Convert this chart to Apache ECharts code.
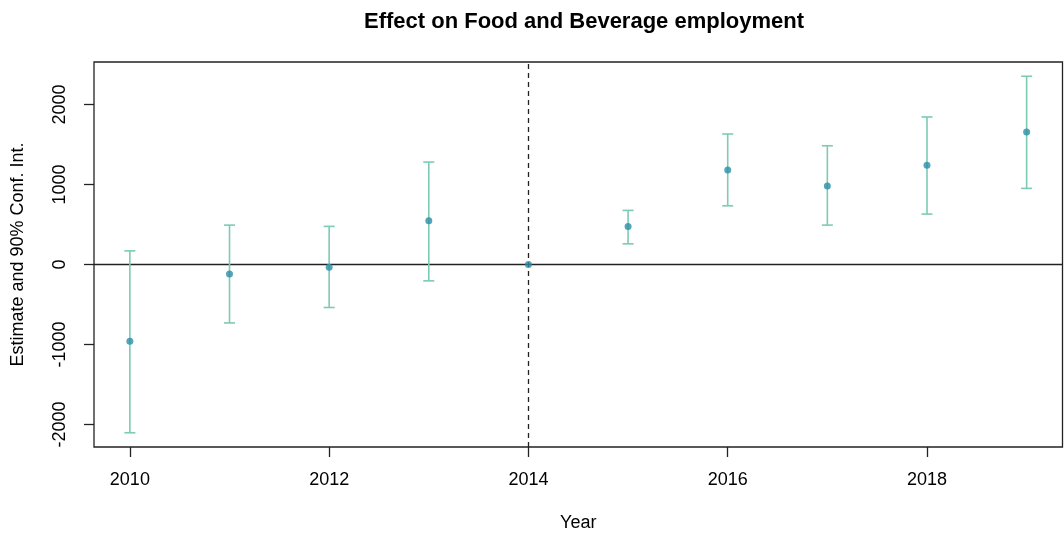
<!DOCTYPE html>
<html>
<head>
<meta charset="utf-8">
<script src="https://cdn.jsdelivr.net/npm/echarts@6/dist/echarts.min.js"></script>
<style>
  html, body { margin: 0; padding: 0; background: #ffffff; }
  #chart { width: 1064px; height: 537px; }
</style>
</head>
<body>
<div id="chart"></div>
<script>
// Event-study estimates with 90% confidence intervals
const years    = [2010, 2011, 2012, 2013, 2014, 2015, 2016, 2017, 2018, 2019];
const estimate = [-960, -118, -34, 546, 0, 476, 1180, 980, 1239, 1656];
const lower    = [-2104, -731, -538, -205, 0, 258, 733, 492, 630, 951];
const upper    = [170, 492, 476, 1280, 0, 676, 1631, 1484, 1844, 2353];
const xTicks   = [2010, 2012, 2014, 2016, 2018];
const yTicks   = [-2000, -1000, 0, 1000, 2000];
const eventYear = 2014;

const FONT = 'Liberation Sans, Arial, sans-serif';
const barColor = '#7dcab5';
const pointColor = '#2a8fa6';

// axis range padded by 4% on each side
const xPad = (years[years.length - 1] - years[0]) * 0.04;
const yLo = Math.min(...lower), yHi = Math.max(...upper);
const yPad = (yHi - yLo) * 0.04;

const intervals = years.map((y, i) => [y, lower[i], upper[i]]).filter(d => d[1] !== d[2]);
const points = years.map((y, i) => [y, estimate[i]]);

const chart = echarts.init(document.getElementById('chart'), null, { renderer: 'canvas' });
chart.setOption({
  animation: false,
  backgroundColor: '#ffffff',
  title: {
    text: 'Effect on Food and Beverage employment',
    left: 579, top: 6, textAlign: 'center',
    textStyle: { fontFamily: FONT, fontSize: 22, fontWeight: 'bold', color: '#000' }
  },
  grid: {
    left: 94, right: 1.5, top: 62, bottom: 90,
    show: true, borderColor: '#222', borderWidth: 1.3, backgroundColor: 'transparent'
  },
  xAxis: {
    type: 'value',
    min: years[0] - xPad, max: years[years.length - 1] + xPad,
    name: 'Year', nameLocation: 'middle', nameGap: 67,
    nameTextStyle: { fontFamily: FONT, fontSize: 18, color: '#000' },
    axisLine: { show: false, onZero: false },
    splitLine: { show: false },
    axisTick: { show: true, length: 10, lineStyle: { color: '#222', width: 1.3 }, customValues: xTicks },
    axisLabel: { margin: 24, fontFamily: FONT, fontSize: 18, color: '#000', customValues: xTicks,
      formatter: v => String(v) }
  },
  yAxis: {
    type: 'value',
    min: yLo - yPad, max: yHi + yPad,
    name: 'Estimate and 90% Conf. Int.', nameLocation: 'middle', nameGap: 67,
    nameTextStyle: { fontFamily: FONT, fontSize: 18, color: '#000' },
    axisLine: { show: false, onZero: false },
    splitLine: { show: false },
    axisTick: { show: true, length: 10, lineStyle: { color: '#222', width: 1.3 }, customValues: yTicks },
    axisLabel: { margin: 25, rotate: 90, fontFamily: FONT, fontSize: 18, color: '#000', customValues: yTicks,
      formatter: v => String(v) }
  },
  series: [
    {
      type: 'custom',
      name: 'interval',
      data: intervals,
      encode: { x: 0, y: [1, 2] },
      z: 2,
      renderItem: function (params, api) {
        const x = api.value(0);
        const lo = api.coord([x, api.value(1)]);
        const hi = api.coord([x, api.value(2)]);
        const cap = 5.5;
        const style = { stroke: barColor, lineWidth: 1.6, fill: null };
        return {
          type: 'group',
          children: [
            { type: 'line', shape: { x1: lo[0], y1: lo[1], x2: hi[0], y2: hi[1] }, style },
            { type: 'line', shape: { x1: lo[0] - cap, y1: lo[1], x2: lo[0] + cap, y2: lo[1] }, style },
            { type: 'line', shape: { x1: hi[0] - cap, y1: hi[1], x2: hi[0] + cap, y2: hi[1] }, style }
          ]
        };
      },
      // zero line and event-year reference line, drawn beneath the points
      markLine: {
        silent: true,
        z: 1,
        symbol: 'none',
        label: { show: false },
        data: [
          { yAxis: 0, lineStyle: { color: '#222', width: 1.3, type: 'solid' } },
          { xAxis: eventYear, lineStyle: { color: '#222', width: 1.3, type: [5, 4] } }
        ]
      }
    },
    {
      type: 'scatter',
      name: 'estimate',
      data: points,
      symbol: 'circle',
      symbolSize: 7,
      z: 10,
      itemStyle: { color: pointColor }
    }
  ]
});
</script>
</body>
</html>
